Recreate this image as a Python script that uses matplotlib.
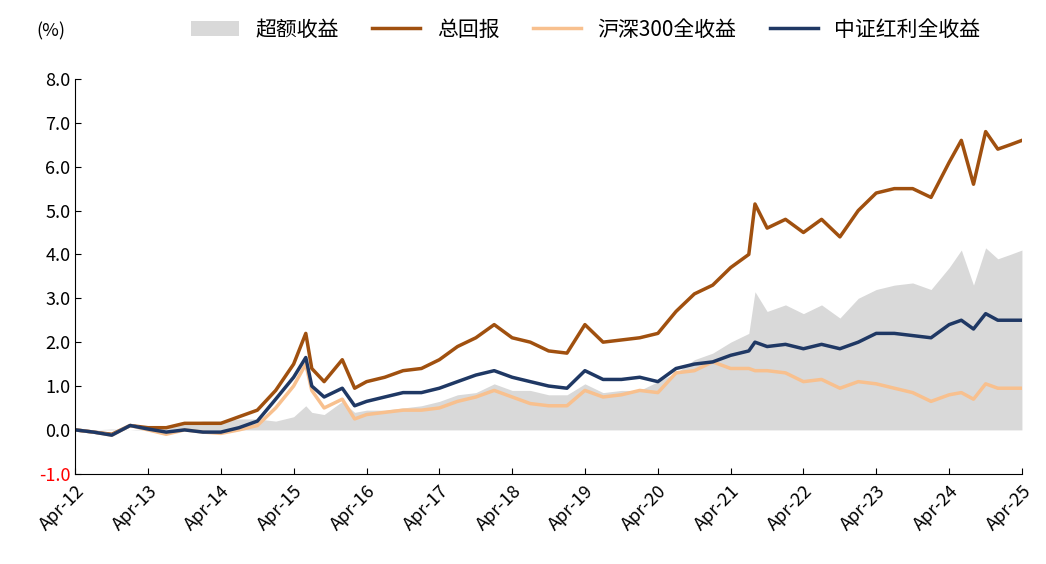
import matplotlib
matplotlib.use("Agg")
import matplotlib.pyplot as plt
import matplotlib.dates as mdates
import pandas as pd

plt.rcParams["font.family"] = "sans-serif"
plt.rcParams["font.sans-serif"] = ["Noto Sans CJK SC", "Noto Sans CJK JP", "DejaVu Sans"]
plt.rcParams["axes.unicode_minus"] = False

dates = ["2012-04", "2012-07", "2012-10", "2013-01", "2013-04", "2013-07", "2013-10", "2014-01",
         "2014-04", "2014-07", "2014-10", "2015-01", "2015-04", "2015-06", "2015-07", "2015-09",
         "2015-12", "2016-02", "2016-04", "2016-07", "2016-10", "2017-01", "2017-04", "2017-07",
         "2017-10", "2018-01", "2018-04", "2018-07", "2018-10", "2019-01", "2019-04", "2019-07",
         "2019-10", "2020-01", "2020-04", "2020-07", "2020-10", "2021-01", "2021-04", "2021-07",
         "2021-08", "2021-10", "2022-01", "2022-04", "2022-07", "2022-10", "2023-01", "2023-04",
         "2023-07", "2023-10", "2024-01", "2024-04", "2024-06", "2024-08", "2024-10", "2024-12",
         "2025-02", "2025-04"]
total_return = [0, -0.05, -0.1, 0.1, 0.05, 0.05, 0.15, 0.15, 0.15, 0.3, 0.45, 0.9, 1.5, 2.2, 1.4, 1.1,
                1.6, 0.95, 1.1, 1.2, 1.35, 1.4, 1.6, 1.9, 2.1, 2.4, 2.1, 2.0, 1.8, 1.75, 2.4, 2.0,
                2.05, 2.1, 2.2, 2.7, 3.1, 3.3, 3.7, 4.0, 5.15, 4.6, 4.8, 4.5, 4.8, 4.4, 5.0, 5.4,
                5.5, 5.5, 5.3, 6.1, 6.6, 5.6, 6.8, 6.4, 6.5, 6.6]
hs300 = [0, -0.05, -0.12, 0.1, 0.0, -0.1, 0.0, -0.05, -0.08, 0.0, 0.1, 0.5, 1.0, 1.5, 0.9, 0.5,
         0.7, 0.25, 0.35, 0.4, 0.45, 0.45, 0.5, 0.65, 0.75, 0.9, 0.75, 0.6, 0.55, 0.55, 0.9, 0.75,
         0.8, 0.9, 0.85, 1.3, 1.35, 1.55, 1.4, 1.4, 1.35, 1.35, 1.3, 1.1, 1.15, 0.95, 1.1, 1.05,
         0.95, 0.85, 0.65, 0.8, 0.85, 0.7, 1.05, 0.95, 0.95, 0.95]
dividend = [0, -0.05, -0.12, 0.1, 0.02, -0.05, 0.0, -0.05, -0.05, 0.05, 0.2, 0.7, 1.2, 1.65, 1.0, 0.75,
            0.95, 0.55, 0.65, 0.75, 0.85, 0.85, 0.95, 1.1, 1.25, 1.35, 1.2, 1.1, 1.0, 0.95, 1.35, 1.15,
            1.15, 1.2, 1.1, 1.4, 1.5, 1.55, 1.7, 1.8, 2.0, 1.9, 1.95, 1.85, 1.95, 1.85, 2.0, 2.2,
            2.2, 2.15, 2.1, 2.4, 2.5, 2.3, 2.65, 2.5, 2.5, 2.5]

x = pd.to_datetime(dates)
excess = [t - d for t, d in zip(total_return, dividend)]

fig = plt.figure(figsize=(10.46, 5.64), dpi=100)
ax = fig.add_axes([0.072, 0.16, 0.905, 0.70])

ax.fill_between(x, 0, excess, color="#d9d9d9", lw=0, label="超额收益")
ax.plot(x, total_return, color="#a0500f", lw=2.5, label="总回报")
ax.plot(x, hs300, color="#f8c08e", lw=2.5, label="沪深300全收益")
ax.plot(x, dividend, color="#1f3864", lw=2.5, label="中证红利全收益")

ax.set_ylim(-1, 8)
ax.set_yticks(range(-1, 9))
ax.set_yticklabels([f"{v:.1f}" for v in range(-1, 9)], fontsize=13)
ax.get_yticklabels()[0].set_color("red")
ax.set_xlim(pd.Timestamp("2012-04-01"), pd.Timestamp("2025-04-01"))
ticks = pd.to_datetime([f"{y}-04-01" for y in range(2012, 2026)])
ax.set_xticks(ticks)
ax.set_xticklabels([t.strftime("%b-%y") for t in ticks], rotation=45, ha="right",
                   rotation_mode="anchor", fontsize=13)

for s in ["top", "right"]:
    ax.spines[s].set_visible(False)
ax.tick_params(direction="in", length=4)
ax.tick_params(axis="x", pad=6)

fig.text(0.035, 0.935, "(%)", fontsize=13)
fig.legend(loc="upper center", bbox_to_anchor=(0.56, 1.0), ncol=4, frameon=False,
           fontsize=15, handlelength=2.3, columnspacing=1.6)

fig.savefig("out.png", dpi=100)
